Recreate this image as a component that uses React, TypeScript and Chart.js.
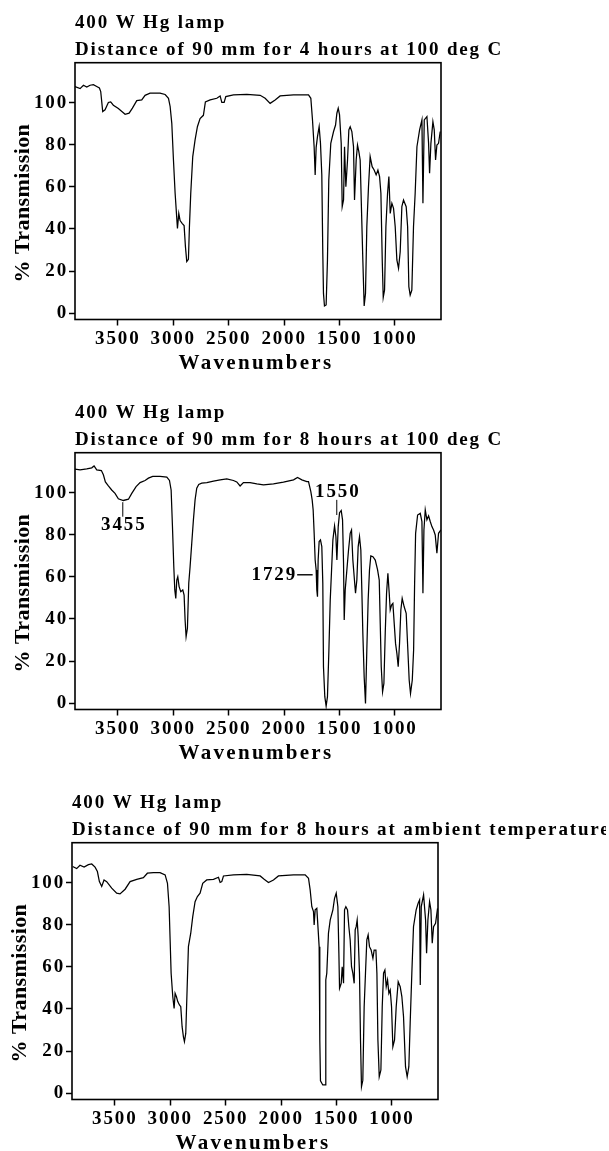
import React, { useEffect, useRef } from 'react';
import { Chart, registerables } from 'chart.js';

Chart.register(...registerables);

const FONT = '"Liberation Serif", "Times New Roman", Times, serif';

// axis extents and tick labels
const xRange = [585, 3886];
const yRange = [-3, 119];
const xTicks = [3500, 3000, 2500, 2000, 1500, 1000];
const yTicks = [0, 20, 40, 60, 80, 100];

// ---------- Panel 1: 4 h at 100 deg C ----------
const titles1 = ['400 W Hg lamp', 'Distance of 90 mm for 4 hours at 100 deg C'];
const wavenumbers1 = [
  3886, 3840, 3810, 3780, 3750, 3720, 3690, 3666, 3654, 3636,
  3615, 3585, 3564, 3540, 3495, 3434, 3398, 3368, 3329, 3284,
  3254, 3209, 3119, 3073, 3043, 3028, 3013, 2998, 2983, 2971,
  2962, 2950, 2938, 2920, 2902, 2890, 2878, 2863, 2854, 2842,
  2824, 2803, 2782, 2758, 2728, 2710, 2667, 2607, 2577, 2562,
  2541, 2526, 2457, 2336, 2216, 2171, 2126, 2081, 2036, 1915,
  1780, 1759, 1744, 1729, 1720, 1711, 1699, 1684, 1672, 1660,
  1651, 1645, 1636, 1621, 1609, 1597, 1579, 1554, 1536, 1524,
  1512, 1500, 1485, 1476, 1464, 1455, 1443, 1428, 1416, 1404,
  1389, 1374, 1365, 1350, 1338, 1326, 1314, 1302, 1290, 1278,
  1266, 1254, 1239, 1224, 1206, 1188, 1170, 1154, 1139, 1127,
  1115, 1106, 1094, 1082, 1067, 1055, 1043, 1028, 1013, 998,
  983, 968, 953, 938, 923, 899, 886, 875, 863, 848,
  833, 818, 802, 778, 757, 748, 736, 712, 697, 688,
  676, 658, 646, 634, 622, 607, 592,
];
const transmission1 = [
  107.7, 106.7, 108.3, 107.4, 108.3, 108.6, 107.7, 107.0, 105.3, 95.8,
  96.6, 100.1, 100.4, 98.8, 97.2, 94.5, 95.0, 97.4, 101.0, 101.3,
  103.5, 104.5, 104.5, 103.9, 102.1, 98.2, 90.2, 72.8, 57.0, 47.4,
  40.3, 47.4, 44.0, 42.7, 41.6, 31.6, 24.5, 25.6, 41.1, 57.0,
  74.4, 82.3, 88.6, 92.5, 94.0, 100.4, 101.3, 102.1, 103.2, 100.1,
  100.1, 102.9, 103.7, 104.0, 103.5, 102.1, 99.7, 101.3, 103.2, 103.7,
  103.7, 102.1, 91.8, 78.8, 65.7, 78.8, 83.9, 88.6, 80.7, 65.7,
  28.4, 9.4, 3.4, 3.9, 25.3, 63.3, 80.7, 86.3, 89.4, 95.0,
  97.4, 94.2, 80.7, 50.6, 53.8, 79.1, 60.1, 72.8, 87.1, 88.6,
  86.3, 79.1, 53.8, 72.8, 79.9, 76.8, 72.8, 49.0, 25.3, 3.4,
  9.4, 41.1, 60.1, 74.4, 69.6, 68.0, 65.7, 68.0, 64.9, 57.0,
  25.3, 7.5, 11.0, 41.1, 57.0, 64.9, 47.4, 52.2, 49.8, 41.1,
  25.3, 21.3, 29.2, 50.6, 53.8, 50.6, 41.1, 12.6, 8.6, 11.0,
  41.1, 57.0, 79.1, 87.1, 91.8, 52.2, 91.8, 93.4, 80.7, 66.5,
  80.7, 91.0, 87.1, 72.8, 79.9, 80.7, 86.3,
];

// ---------- Panel 2: 8 h at 100 deg C ----------
const titles2 = ['400 W Hg lamp', 'Distance of 90 mm for 8 hours at 100 deg C'];
const wavenumbers2 = [
  3886, 3840, 3780, 3735, 3714, 3690, 3648, 3630, 3612, 3585,
  3555, 3525, 3495, 3450, 3404, 3374, 3335, 3299, 3254, 3224,
  3185, 3119, 3058, 3034, 3019, 3007, 2995, 2986, 2977, 2968,
  2959, 2947, 2932, 2914, 2902, 2893, 2884, 2872, 2860, 2848,
  2833, 2818, 2803, 2788, 2770, 2743, 2697, 2637, 2577, 2517,
  2457, 2427, 2397, 2367, 2307, 2246, 2186, 2096, 2006, 1915,
  1879, 1840, 1795,
  1780, 1759, 1747, 1738, 1729, 1720, 1711, 1705, 1699, 1693,
  1684, 1672, 1660, 1651, 1645, 1633, 1621, 1609, 1596, 1584,
  1572, 1560, 1545, 1533, 1524, 1512, 1500, 1485, 1473, 1464,
  1458, 1449, 1434, 1419, 1404, 1392, 1380, 1368, 1356, 1344,
  1332, 1320, 1308, 1299, 1290, 1278, 1266, 1254, 1242, 1230,
  1218, 1199, 1178, 1157, 1142, 1133, 1124, 1112, 1100, 1088,
  1076, 1064, 1052, 1043, 1031, 1019, 1007, 995, 983, 971,
  959, 947, 935, 917, 899, 884, 872, 860, 844, 832,
  823, 814, 796, 772, 757, 748, 739, 727, 712, 697,
  682, 667, 652, 637, 622, 607, 586,
];
const transmission2 = [
  111.2, 110.8, 111.3, 111.8, 112.7, 110.8, 110.5, 108.5, 105.1, 103.2,
  101.3, 99.7, 97.1, 96.3, 96.9, 99.7, 102.9, 104.8, 105.8, 106.9,
  107.7, 107.7, 107.4, 105.8, 101.3, 83.9, 64.9, 53.8, 49.8, 58.5,
  60.1, 55.4, 53.0, 53.8, 51.4, 39.5, 31.6, 35.6, 57.0, 64.9,
  76.0, 87.1, 96.6, 102.1, 103.9, 104.5, 104.8, 105.5, 106.1, 106.6,
  105.8, 105.1, 103.2, 104.8, 104.8, 104.2, 103.7, 104.2, 105.0, 106.1,
  107.2, 106.1, 105.3,
  105.3, 100.5, 96.6, 91.8, 80.7, 68.0, 63.3, 53.8, 50.6, 68.0,
  76.8, 77.6, 74.4, 57.0, 17.3, 3.1, -1.4, 3.1, 25.3, 49.0,
  63.3, 77.6, 84.2, 79.1, 68.0, 83.9, 90.5, 91.5, 87.1, 66.5,
  39.5, 53.8, 63.3, 72.8, 80.7, 82.3, 68.0, 60.1, 52.2, 58.5,
  74.4, 79.1, 72.8, 53.8, 33.2, 12.6, -0.1, 25.3, 49.0, 63.3,
  70.0, 69.6, 68.0, 63.3, 58.5, 37.9, 17.3, 5.4, 9.4, 33.2,
  52.2, 61.7, 52.2, 44.3, 46.6, 47.4, 37.9, 28.4, 23.7, 17.3,
  28.4, 44.3, 49.8, 45.8, 42.7, 25.3, 11.0, 4.6, 11.0, 25.3,
  57.0, 80.7, 89.4, 90.2, 86.3, 52.2, 82.3, 91.8, 87.1, 89.0,
  86.3, 83.9, 82.3, 79.9, 71.2, 80.7, 82.3,
];
// peak labels of panel 2 (wavenumber, transmission values)
const annotations2 = [
  { text: '3455', x: 3455, lineFrom: 95.5, lineTo: 88.6, labelAt: 84.7, kind: 'vertical' },
  { text: '1550', x: 1525, lineFrom: 96.6, lineTo: 89.4, labelAt: 100.3, kind: 'vertical' },
  { text: '1729', x: 1729, labelAt: 61, kind: 'leader' },
];

// ---------- Panel 3: 8 h at ambient temperature ----------
const titles3 = ['400 W Hg lamp', 'Distance of 90 mm for 8 hours at ambient temperature'];
const wavenumbers3 = [
  3880, 3844, 3814, 3777, 3738, 3708, 3678, 3657, 3639, 3618,
  3597, 3573, 3528, 3483, 3453, 3407, 3362, 3302, 3242, 3206,
  3152, 3092, 3046, 3025, 3010, 3001, 2992, 2977, 2965, 2956,
  2944, 2932, 2917, 2905, 2893, 2881, 2872, 2860, 2848, 2836,
  2815, 2797, 2776, 2755, 2731, 2707, 2671, 2610, 2565, 2550,
  2535, 2520, 2430, 2310, 2189, 2153, 2114, 2069, 2024, 1888,
  1783, 1753, 1738, 1723, 1708, 1702, 1693, 1678, 1666, 1657,
  1651, 1645, 1624, 1603, 1597, 1588, 1573, 1557, 1533, 1518,
  1503, 1488, 1479, 1473, 1458, 1449, 1437, 1428, 1416, 1401,
  1389, 1377, 1365, 1353, 1341, 1332, 1323, 1314, 1305, 1293,
  1284, 1275, 1263, 1251, 1239, 1227, 1215, 1203, 1188, 1172,
  1161, 1145, 1136, 1127, 1115, 1100, 1088, 1076, 1064, 1052,
  1040, 1028, 1016, 1004, 992, 977, 962, 944, 926, 911,
  896, 878, 863, 848, 836, 821, 806, 782, 764, 751,
  745, 736, 715, 697, 688, 676, 661, 649, 637, 625,
  607, 589,
];
const transmission3 = [
  107.7, 106.7, 108.3, 107.4, 108.6, 108.9, 107.4, 105.3, 100.5, 98.2,
  101.3, 100.5, 97.4, 95.0, 94.7, 96.9, 100.5, 101.6, 102.4, 104.5,
  104.8, 104.8, 103.7, 99.7, 88.6, 72.8, 57.0, 45.8, 40.3, 47.4,
  45.8, 43.5, 41.9, 41.1, 31.6, 26.8, 24.5, 28.4, 49.0, 69.6,
  76.0, 83.9, 91.0, 93.4, 95.0, 99.7, 101.3, 101.6, 102.6, 100.1,
  100.5, 103.2, 103.7, 104.0, 103.2, 101.6, 100.1, 101.3, 103.2, 103.7,
  103.7, 102.1, 96.6, 88.6, 86.3, 79.9, 87.1, 87.8, 77.6, 69.6,
  25.3, 5.9, 3.9, 3.9, 53.8, 57.0, 76.0, 82.3, 87.1, 92.6,
  95.0, 88.6, 66.5, 49.8, 52.2, 60.1, 52.2, 87.1, 88.6, 87.1,
  79.1, 72.8, 60.1, 57.0, 52.2, 77.6, 79.1, 82.3, 74.4, 57.0,
  25.3, 3.1, 6.2, 41.1, 57.0, 72.8, 75.2, 69.6, 68.0, 64.1,
  68.0, 68.0, 57.0, 25.3, 7.8, 11.0, 41.1, 57.0, 58.5, 50.6,
  53.8, 47.4, 49.0, 41.1, 22.1, 25.3, 41.1, 53.0, 50.6, 45.9,
  36.4, 12.6, 7.8, 12.6, 33.2, 57.0, 79.1, 87.1, 90.2, 91.8,
  51.4, 88.6, 94.2, 82.3, 66.5, 82.3, 91.0, 87.1, 71.2, 79.1,
  80.7, 87.8,
];

type Annotation = {
  text: string;
  x: number;
  labelAt: number;
  lineFrom?: number;
  lineTo?: number;
  kind: string;
};

const CANVAS_W = 609;
const CANVAS_H = 390;
const PLOT_TOP = 62.7;
const PLOT_BOTTOM = 319.5;
const PLOT_LEFT = 75;
const PLOT_RIGHT = 441;
const TEXT_SPACING = '1.85px';

function makeDecor(titles: string[], annotations: Annotation[]) {
  return {
    id: 'panelDecor',
    beforeDraw(chart: any) {
      // the scanned figure's lettering is wide: emulate with letter spacing
      (chart.ctx as any).letterSpacing = TEXT_SPACING;
    },
    afterDraw(chart: any) {
      const { ctx, chartArea: a, scales } = chart;
      const xs = scales.x;
      const ys = scales.y;
      ctx.save();
      ctx.fillStyle = '#000';
      ctx.strokeStyle = '#000';
      // frame
      ctx.lineWidth = 1.6;
      ctx.strokeRect(a.left, a.top, a.right - a.left, a.bottom - a.top);

      // titles
      ctx.font = `bold 19px ${FONT}`;
      ctx.letterSpacing = TEXT_SPACING;
      ctx.textAlign = 'left';
      ctx.textBaseline = 'alphabetic';
      ctx.fillText(titles[0], a.left, a.top - 34.4);
      ctx.fillText(titles[1], a.left, a.top - 7.7);

      // x axis title
      ctx.font = `bold 21px ${FONT}`;
      ctx.letterSpacing = '2.3px';
      ctx.textAlign = 'center';
      ctx.fillText('Wavenumbers', (a.left + a.right) / 2 - 2, a.bottom + 49.5);

      // y axis title
      ctx.save();
      ctx.translate(a.left - 46.5, (a.top + a.bottom) / 2 + 12);
      ctx.rotate(-Math.PI / 2);
      ctx.font = `bold 22px ${FONT}`;
      ctx.letterSpacing = '0.4px';
      ctx.textAlign = 'center';
      ctx.fillText('% Transmission', 0, 0);
      ctx.restore();

      // peak annotations
      ctx.font = `bold 19px ${FONT}`;
      ctx.letterSpacing = TEXT_SPACING;
      ctx.lineWidth = 1;
      for (const an of annotations) {
        const px = xs.getPixelForValue(an.x);
        if (an.kind === 'vertical') {
          ctx.lineWidth = 1;
          ctx.beginPath();
          ctx.moveTo(px, ys.getPixelForValue(an.lineFrom));
          ctx.lineTo(px, ys.getPixelForValue(an.lineTo));
          ctx.stroke();
          ctx.textAlign = 'center';
          ctx.textBaseline = 'middle';
          ctx.fillText(an.text, px + 1, ys.getPixelForValue(an.labelAt));
        } else {
          const py = ys.getPixelForValue(an.labelAt);
          ctx.lineWidth = 1.4;
          ctx.beginPath();
          ctx.moveTo(px - 17, py);
          ctx.lineTo(px - 1.5, py);
          ctx.stroke();
          ctx.textAlign = 'right';
          ctx.textBaseline = 'middle';
          ctx.fillText(an.text, px - 19 + 1.85, py);
        }
      }
      ctx.restore();
    },
  };
}

function Panel(props: {
  titles: string[];
  wavenumbers: number[];
  transmission: number[];
  annotations: Annotation[];
  left: number;
  top: number;
}) {
  const ref = useRef<HTMLCanvasElement>(null);
  useEffect(() => {
    const canvas = ref.current;
    if (!canvas) return;
    const points = props.wavenumbers.map((w, i) => ({ x: w, y: props.transmission[i] }));
    const tickFont = { family: FONT, size: 19, weight: 'bold' as const };
    const gridOpts = {
      display: true,
      drawOnChartArea: false,
      drawTicks: true,
      tickLength: 6,
      tickColor: '#000',
      tickWidth: 1.5,
      color: '#000',
    };
    const chart = new Chart(canvas, {
      type: 'line',
      data: {
        datasets: [
          {
            data: points,
            borderColor: '#000',
            borderWidth: 1.25,
            pointRadius: 0,
            tension: 0,
            fill: false,
          },
        ],
      },
      options: {
        animation: false,
        responsive: false,
        devicePixelRatio: 1,
        layout: {
          autoPadding: false,
          padding: {
            top: PLOT_TOP,
            left: 0,
            right: CANVAS_W - PLOT_RIGHT,
            bottom: 0,
          },
        },
        plugins: {
          legend: { display: false },
          title: { display: false },
          tooltip: { enabled: false },
        },
        scales: {
          x: {
            type: 'linear',
            reverse: true,
            min: xRange[0],
            max: xRange[1],
            afterBuildTicks: (s: any) => {
              s.ticks = xTicks.map((v) => ({ value: v }));
            },
            afterFit: (s: any) => {
              s.height = CANVAS_H - PLOT_BOTTOM;
            },
            grid: gridOpts,
            border: { display: false },
            ticks: {
              color: '#000',
              font: tickFont,
              padding: 2,
              maxRotation: 0,
              autoSkip: false,
              callback: (v: any) => String(v),
            },
          },
          y: {
            type: 'linear',
            min: yRange[0],
            max: yRange[1],
            afterBuildTicks: (s: any) => {
              s.ticks = yTicks.map((v) => ({ value: v }));
            },
            afterFit: (s: any) => {
              s.width = PLOT_LEFT;
            },
            grid: gridOpts,
            border: { display: false },
            ticks: {
              color: '#000',
              font: tickFont,
              padding: 1,
              autoSkip: false,
              callback: (v: any) => String(v),
            },
          },
        },
      } as any,
      plugins: [makeDecor(props.titles, props.annotations)],
    });
    return () => chart.destroy();
  }, []);
  return (
    <canvas
      ref={ref}
      width={CANVAS_W}
      height={CANVAS_H}
      style={{
        position: 'absolute',
        left: props.left,
        top: props.top,
        width: CANVAS_W,
        height: CANVAS_H,
        display: 'block',
      }}
    />
  );
}

export default function App() {
  return (
    <div
      style={{
        position: 'absolute',
        left: 0,
        top: 0,
        width: 609,
        height: 1151,
        overflow: 'hidden',
        background: '#fff',
      }}
    >
      <Panel titles={titles1} wavenumbers={wavenumbers1} transmission={transmission1} annotations={[]} left={0} top={0} />
      <Panel titles={titles2} wavenumbers={wavenumbers2} transmission={transmission2} annotations={annotations2} left={0} top={390} />
      <Panel titles={titles3} wavenumbers={wavenumbers3} transmission={transmission3} annotations={[]} left={-3} top={780} />
    </div>
  );
}
